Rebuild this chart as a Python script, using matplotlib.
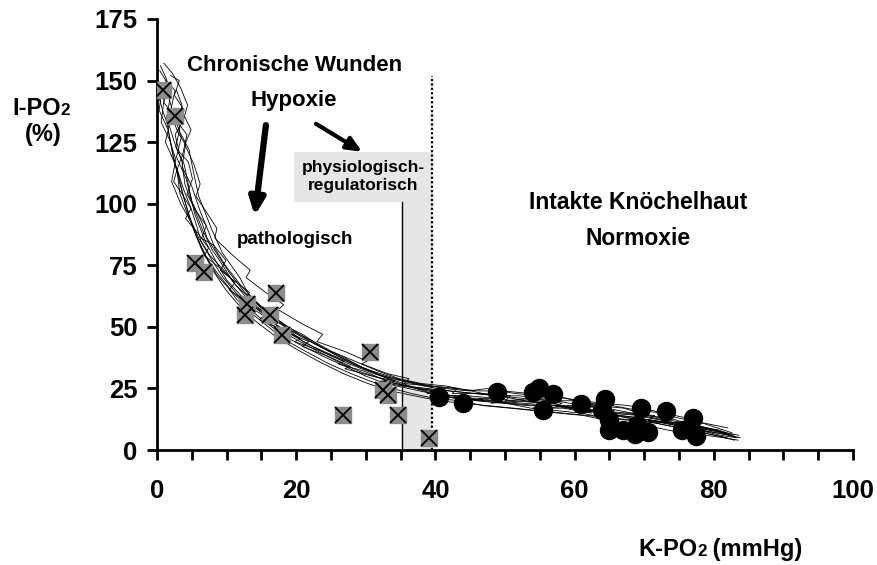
import matplotlib.pyplot as plt
from matplotlib.patches import Rectangle

plt.rcParams['font.family'] = ['Liberation Sans', 'DejaVu Sans']
plt.rcParams['font.weight'] = 'bold'

# chronic wounds (grey squares with cross)
wound_x = [0.9, 2.6, 5.5, 6.7, 12.9, 12.6, 16.2, 17.1, 17.9, 30.6, 32.5, 33.2, 26.7, 34.6, 39.1]
wound_y = [146, 135.6, 75.8, 72.4, 59.3, 54.8, 54.8, 63.6, 46.7, 39.9, 24.4, 22.3, 14.2, 14.2, 4.9]

# intact ankle skin (black dots)
skin_x = [40.5, 43.9, 48.9, 54.0, 54.9, 56.9, 55.5, 60.9, 64.4, 63.9, 65.0, 65.0, 66.9, 68.9,
          68.7, 70.5, 69.5, 73.1, 77.0, 75.5, 77.5]
skin_y = [21.6, 19.0, 23.7, 23.4, 25.0, 22.7, 16.2, 18.5, 20.7, 16.2, 12.2, 8.1, 8.1, 10.2,
          6.5, 7.4, 16.9, 16.0, 12.9, 8.1, 5.7]

# recorded curves, read by eye
traces = [
    ([0.4, 1.5, 1.0, 2.4, 3.5, 2.8, 4.2, 5.0, 6.5, 7.2, 9.0, 10.4, 12.6, 14.1, 16.8, 19.5, 22.0, 25.4, 28.1, 31.5, 34.0, 37.6, 41.2, 44.8, 47.5, 51.3, 55.0, 58.6, 62.2, 65.5, 69.3, 72.8, 76.1, 79.4, 82.6],
     [154, 149, 141, 136, 127, 119, 110, 101, 92, 86, 78, 72, 64, 60, 53, 48, 44, 39, 35, 31, 29, 27, 25, 24, 25, 23, 22, 21, 19, 18, 16, 15, 13, 10, 7]),
    ([0.8, 0.3, 1.6, 2.2, 2.9, 3.3, 4.5, 5.8, 7.0, 8.6, 10.2, 11.5, 13.8, 16.0, 18.2, 21.4, 24.7, 27.9, 30.6, 33.8, 36.5, 39.8, 43.6, 46.9, 50.7, 54.2, 57.6, 61.3, 64.8, 68.4, 71.9, 75.3, 78.8, 81.4, 83.5],
     [147, 138, 130, 121, 113, 104, 95, 86, 79, 71, 66, 61, 55, 50, 45, 40, 35, 31, 28, 25, 23, 21, 20, 18, 17, 16, 15, 14, 12, 10, 9, 7, 6, 5, 4]),
    ([2.0, 3.2, 2.5, 3.9, 3.1, 4.6, 5.3, 6.0, 7.8, 9.4, 11.9, 13.2, 15.5, 18.7, 20.9, 23.5, 26.6, 29.8, 33.1, 35.7, 38.9, 42.4, 45.9, 49.6, 53.4, 57.1, 60.5, 64.1, 67.6, 71.2, 74.6, 78.0, 80.9, 83.2, 80.5, 76.0, 71.4, 66.8, 62.0, 57.2, 52.6, 48.0, 43.5, 39.2],
     [152, 150, 144, 138, 130, 122, 112, 103, 90, 80, 70, 63, 57, 50, 47, 42, 38, 33, 29, 26, 24, 22, 20, 19, 18, 18, 17, 15, 13, 12, 10, 8, 6, 5, 8, 10, 12, 14, 16, 18, 19, 20, 21, 22]),
    ([1.2, 2.6, 1.9, 3.0, 4.1, 3.6, 5.0, 6.2, 7.5, 8.3, 9.8, 12.0, 14.6, 17.3, 19.9, 22.8, 26.2, 29.2, 32.4, 35.2, 38.4, 41.9, 45.3, 48.8, 52.5, 56.2, 59.9, 63.4, 67.0, 70.6, 73.9, 77.5, 80.8, 82.9],
     [150, 146, 137, 129, 124, 115, 107, 97, 88, 82, 75, 67, 59, 53, 48, 43, 38, 34, 30, 28, 26, 24, 23, 22, 21, 20, 20, 18, 17, 14, 12, 10, 8, 6]),
    ([0.2, 1.0, 0.6, 1.8, 2.7, 2.1, 3.4, 4.8, 5.6, 6.8, 8.9, 10.9, 13.0, 15.1, 17.9, 20.4, 23.9, 27.0, 30.0, 32.8, 36.1, 39.4, 42.8, 46.5, 50.2, 53.7, 57.4, 60.9, 64.6, 68.1, 71.5, 75.0, 78.6, 81.9],
     [148, 142, 133, 126, 118, 109, 100, 93, 87, 79, 71, 64, 58, 53, 47, 43, 38, 34, 30, 27, 25, 23, 21, 20, 19, 17, 16, 15, 13, 12, 11, 9, 7, 5]),
    ([2.8, 3.6, 3.0, 4.3, 3.7, 2.9, 3.8, 4.9, 5.7, 6.3, 7.6, 9.6, 11.3, 13.6, 16.3, 18.9, 21.9, 25.1, 28.5, 31.8, 34.8, 37.9, 41.5, 45.1, 48.3, 52.0, 55.7, 59.2, 62.8, 66.4, 70.1, 73.6, 77.1, 80.2, 82.4],
     [146, 140, 133, 128, 120, 114, 106, 98, 91, 85, 79, 73, 67, 61, 55, 49, 45, 40, 36, 32, 29, 27, 26, 24, 22, 22, 21, 19, 18, 16, 14, 13, 10, 8, 6]),
    ([0.5, 1.3, 2.0, 1.4, 2.5, 3.6, 4.0, 5.2, 6.6, 8.0, 9.2, 11.0, 12.8, 15.8, 18.4, 21.0, 24.4, 27.6, 31.2, 34.4, 37.2, 40.6, 44.0, 47.7, 51.5, 55.3, 58.9, 62.6, 66.1, 69.8, 73.3, 76.7, 80.1, 83.0],
     [156, 151, 145, 135, 125, 117, 108, 99, 89, 81, 76, 68, 62, 55, 50, 44, 39, 35, 31, 28, 25, 22, 21, 21, 20, 19, 17, 16, 14, 12, 10, 8, 6, 4]),
    ([1.6, 2.3, 3.3, 2.7, 3.9, 4.7, 5.4, 6.9, 8.4, 10.0, 12.3, 14.9, 17.0, 19.3, 22.5, 25.9, 29.0, 32.2, 35.5, 38.7, 42.1, 45.6, 49.2, 52.8, 56.6, 60.2, 63.8, 67.3, 70.8, 74.4, 77.8, 81.1, 83.4],
     [144, 137, 131, 123, 116, 105, 96, 85, 77, 69, 62, 56, 51, 46, 41, 36, 32, 29, 26, 25, 24, 23, 22, 20, 19, 17, 16, 15, 13, 11, 9, 7, 5]),
    ([82.0, 78.5, 74.9, 71.3, 67.8, 64.3, 60.7, 57.0, 53.3, 49.7, 46.2, 42.7, 39.0, 35.6, 32.1, 28.9, 25.6, 22.4, 19.2, 16.6, 14.0, 11.6, 9.5, 7.7, 6.0, 4.6, 3.5, 2.4, 1.5],
     [9, 11, 13, 16, 18, 19, 20, 22, 23, 24, 24, 25, 26, 28, 31, 34, 38, 42, 47, 52, 57, 63, 70, 78, 86, 95, 106, 118, 132]),
    ([83.6, 79.8, 76.3, 72.6, 69.0, 65.4, 61.9, 58.3, 54.8, 51.2, 47.6, 44.0, 40.5, 37.0, 33.5, 30.3, 26.8, 23.2, 20.0, 17.1, 14.3, 12.0, 9.9, 8.0, 6.4, 5.0, 3.8, 2.8],
     [6, 8, 9, 11, 12, 13, 14, 15, 16, 17, 18, 19, 20, 22, 24, 27, 31, 36, 41, 46, 52, 58, 65, 73, 82, 92, 103, 115]),
    ([1.0, 2.2, 3.4, 4.4, 3.8, 2.6, 3.2, 4.5, 5.1, 4.3, 5.6, 7.1, 6.4, 8.2, 9.9, 9.1, 11.4, 13.3, 12.5, 14.8, 17.0, 16.2, 19.4, 21.8, 20.9, 24.6, 27.8, 27.0, 30.9, 34.1, 33.2, 37.5, 41.0, 40.1, 44.6, 48.9, 48.0, 52.7, 56.4, 55.5, 60.1, 64.2, 63.3, 67.8, 71.5, 70.6, 75.2, 79.0, 78.1, 82.3],
     [157, 153, 147, 140, 134, 128, 121, 117, 110, 104, 97, 91, 86, 83, 77, 73, 68, 64, 61, 57, 53, 51, 47, 44, 42, 38, 34, 33, 30, 28, 27, 25, 24, 22, 22, 21, 19, 20, 19, 17, 18, 17, 15, 15, 14, 12, 11, 9, 8, 6]),
    ([0.3, 0.9, 1.7, 1.2, 2.0, 2.9, 2.4, 3.6, 4.9, 4.1, 5.9, 7.4, 6.8, 9.0, 11.2, 10.4, 13.0, 15.6, 14.7, 18.0, 20.6, 19.8, 23.7, 26.9, 26.0, 29.8, 33.0, 32.1, 36.2, 39.6, 38.8, 43.0, 47.1, 46.2, 50.9, 54.8, 54.0, 58.3, 62.5, 61.6, 66.0, 69.9, 69.0, 73.4, 77.1, 76.3, 80.5, 83.8],
     [143, 137, 131, 125, 120, 114, 109, 104, 98, 94, 88, 82, 79, 74, 68, 65, 60, 55, 53, 49, 45, 44, 40, 36, 35, 32, 28, 28, 26, 24, 23, 22, 20, 21, 19, 18, 17, 17, 15, 16, 14, 13, 12, 11, 9, 9, 7, 5]),
    ([3.5, 4.9, 4.0, 5.3, 6.2, 5.6, 7.0, 8.6, 8.3, 10.9, 13.4, 12.8, 15.6, 18.2, 17.4, 21.0, 23.8, 23.0, 27.0, 30.2, 29.4, 33.1, 36.2, 35.5, 39.3, 43.2, 42.4, 46.6, 50.8, 50.0, 54.4, 58.2, 57.4, 61.8, 65.7, 64.9, 69.4, 73.3, 72.5, 76.8, 80.6],
     [138, 130, 124, 116, 108, 103, 97, 90, 86, 79, 73, 70, 64, 59, 57, 51, 47, 44, 40, 36, 35, 31, 29, 27, 26, 25, 23, 23, 22, 20, 21, 19, 18, 18, 16, 15, 14, 12, 12, 10, 8]),
]

fig = plt.figure(figsize=(8.77, 5.65), dpi=100)
ax = fig.add_axes([0.179, 0.2035, 0.7936, 0.763])

# physiological-regulatory zone
ax.add_patch(Rectangle((35.2, 0), 4.3, 100.8, facecolor='#e6e6e6', edgecolor='none', zorder=0))
ax.add_patch(Rectangle((19.7, 100.8), 19.8, 20.2, facecolor='#e6e6e6', edgecolor='none', zorder=0))
ax.plot([35.2, 35.2], [0, 100.8], color='black', lw=1, zorder=1)
ax.plot([39.5, 39.5], [0, 152], color='black', lw=1.6, ls=(0, (1, 1)), zorder=1)

for tx, ty in traces:
    ax.plot(tx, ty, color='black', lw=0.6, zorder=2)

ax.plot(wound_x, wound_y, 's', ms=12, color='#8c8c8c', mec='#8c8c8c', zorder=3)
ax.plot(wound_x, wound_y, 'x', ms=11, color='black', mew=1.3, zorder=4)
ax.plot(skin_x, skin_y, 'o', ms=13, color='black', zorder=3)

ax.annotate('', xy=(14.0, 94), xytext=(15.7, 133),
            arrowprops=dict(arrowstyle='-|>,head_width=0.45,head_length=1.0', lw=4.5, color='black'))
ax.annotate('', xy=(29.8, 120.5), xytext=(22.5, 133),
            arrowprops=dict(arrowstyle='-|>,head_width=0.4,head_length=0.9', lw=3, color='black'))

ax.text(19.7, 156, 'Chronische Wunden', ha='center', va='center', fontsize=16)
ax.text(19.7, 142, 'Hypoxie', ha='center', va='center', fontsize=16)
ax.text(29.6, 111, 'physiologisch-\nregulatorisch', ha='center', va='center', fontsize=12.5,
        linespacing=1.25)
ax.text(19.8, 85.3, 'pathologisch', ha='center', va='center', fontsize=13.5)
ax.text(69.1, 100.3, 'Intakte Knöchelhaut', ha='center', va='center', fontsize=16.5)
ax.text(69.1, 86, 'Normoxie', ha='center', va='center', fontsize=16.5)

ax.set_xlim(0, 100)
ax.set_ylim(0, 175)
ax.set_xticks(range(0, 101, 5))
ax.set_xticklabels([str(v) if v % 20 == 0 else '' for v in range(0, 101, 5)])
ax.set_yticks(range(0, 176, 25))
ax.tick_params(direction='out', length=7, width=2, labelsize=18.5)
ax.tick_params(axis='x', pad=14)
ax.tick_params(axis='y', pad=7)
for s in ['top', 'right']:
    ax.spines[s].set_visible(False)
for s in ['left', 'bottom']:
    ax.spines[s].set_linewidth(2)

# axis titles with small "2" on the baseline
W, H = 877.0, 565.0
r = fig.canvas.get_renderer()


def label_po2(x_left, y_base, before, after, size):
    parts = [(before, size), ('2', size * 0.72), (after, size)]
    x = x_left
    for txt, fs in parts:
        t = fig.text(x / W, 1 - y_base / H, txt, ha='left', va='baseline', fontsize=fs)
        x = t.get_window_extent(r).x1


label_po2(12, 115, 'I-PO', '', 17)
fig.text(43 / W, 1 - 135 / H, '(%)', ha='center', va='center', fontsize=17)
label_po2(638, 556, 'K-PO', ' (mmHg)', 17)

fig.savefig('out.png', dpi=100)
